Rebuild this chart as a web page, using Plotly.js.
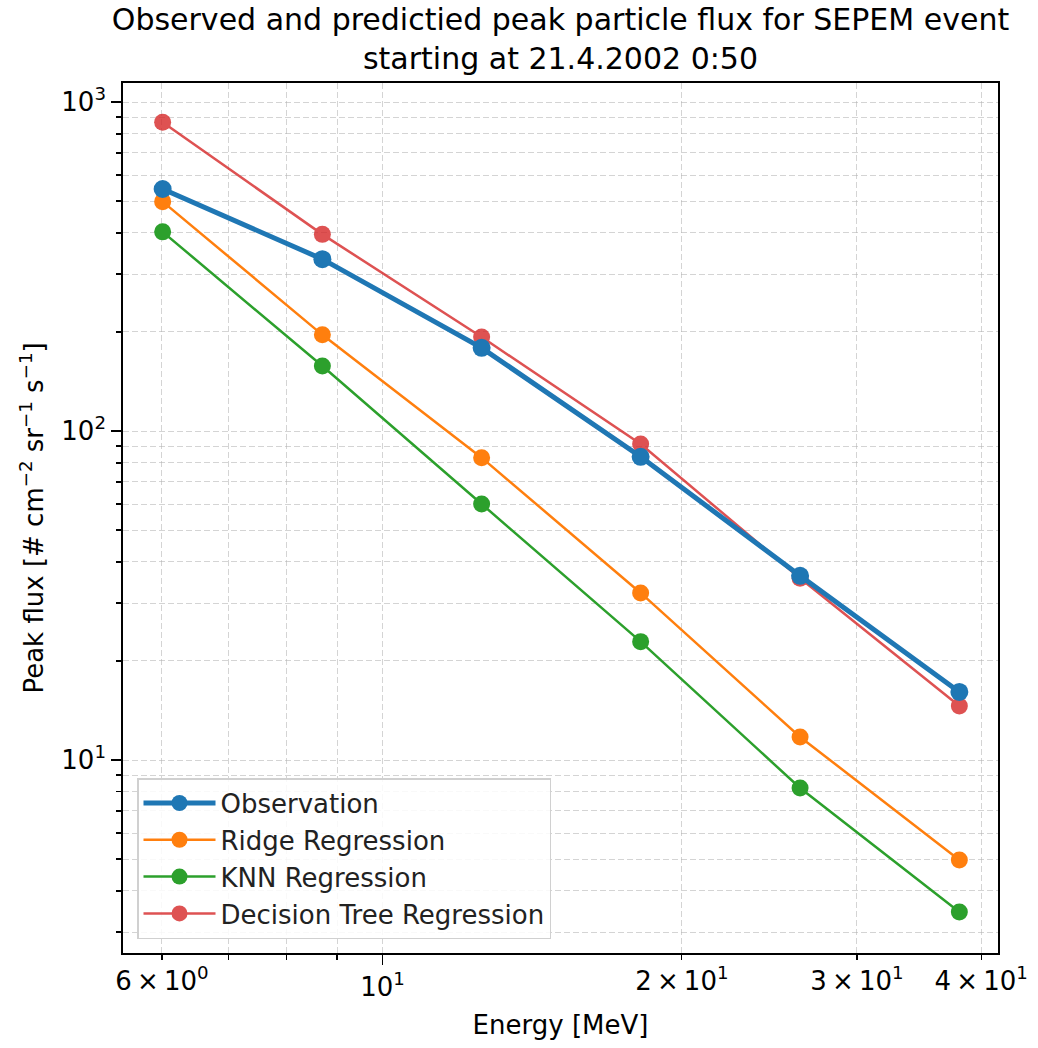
<!DOCTYPE html>
<html>
<head>
<meta charset="utf-8">
<script src="https://cdn.plot.ly/plotly-3.0.1.min.js"></script>
<style>html,body{margin:0;padding:0;background:#fff;}#chart{width:1038px;height:1048px;}</style>
</head>
<body>
<div id="chart"></div>
<script>
// Data
const energy = [6.01, 8.70, 12.58, 18.18, 26.30, 38.03];
const observation = [544, 333, 179, 83.5, 36.3, 16.1];
const ridge = [498, 196, 83, 32.2, 11.75, 4.97];
const knn = [403, 157.6, 60.0, 22.9, 8.22, 3.45];
const decisionTree = [868, 396, 193, 91.3, 35.7, 14.6];

const seriesNames = ["Observation", "Ridge Regression", "KNN Regression", "Decision Tree Regression"];

const xMajorVals = [10];
const xMajorText = ["10<sup>1</sup>"];
const xLabeledMinorVals = [6, 20, 30, 40];
const xLabeledMinorText = ["6\u2009×\u200910<sup>0</sup>", "2\u2009×\u200910<sup>1</sup>", "3\u2009×\u200910<sup>1</sup>", "4\u2009×\u200910<sup>1</sup>"];
const xMinorVals = [6, 7, 8, 9, 20, 30, 40];
const yMajorVals = [10, 100, 1000];
const yMajorText = ["10<sup>1</sup>", "10<sup>2</sup>", "10<sup>3</sup>"];

const yMinorVals = [];
[1, 10, 100].forEach(d => { for (let m = 2; m <= 9; m++) yMinorVals.push(m * d); });

const FONT = "DejaVu Sans, sans-serif";
const FS = 26;
const xRange = [0.739, 1.619];
const yRange = [0.4134, 3.0578];
const gridCol = "rgba(176,176,176,0.55)";
const gridDash = "6px,3px";

const traces = [
  {x: energy, y: ridge, name: seriesNames[1], mode: "lines+markers", legendrank: 2,
   line: {color: "#ff7f0e", width: 2.5}, marker: {color: "#ff7f0e", size: 17}},
  {x: energy, y: knn, name: seriesNames[2], mode: "lines+markers", legendrank: 3,
   line: {color: "#2ca02c", width: 2.5}, marker: {color: "#2ca02c", size: 17}},
  {x: energy, y: decisionTree, name: seriesNames[3], mode: "lines+markers", legendrank: 4, opacity: 0.8,
   line: {color: "#d62728", width: 2.5}, marker: {color: "#d62728", size: 17}},
  {x: energy, y: observation, name: seriesNames[0], mode: "lines+markers", legendrank: 1,
   line: {color: "#1f77b4", width: 5}, marker: {color: "#1f77b4", size: 18}},
  {x: energy, y: observation, xaxis: "x2", mode: "none", showlegend: false, hoverinfo: "skip"}
];

const layout = {
  width: 1038, height: 1048,
  paper_bgcolor: "#ffffff", plot_bgcolor: "#ffffff",
  font: {family: FONT, size: FS, color: "#000"},
  margin: {l: 123, r: 40, t: 83, b: 95},
  showlegend: true,
  title: {
    text: "Observed and predictied peak particle flux for SEPEM event<br>starting at 21.4.2002 0:50",
    font: {family: FONT, size: 30, color: "#000"},
    x: 0.5, xref: "paper", xanchor: "center",
    y: 0.971, yref: "container", yanchor: "top"
  },
  xaxis: {
    type: "log", range: xRange,
    tickmode: "array", tickvals: xMajorVals, ticktext: xMajorText,
    ticks: "outside", ticklen: 10, tickwidth: 1.5, tickcolor: "#000",
    showline: true, linecolor: "#000", linewidth: 1.8, mirror: true,
    showgrid: true, gridcolor: gridCol, gridwidth: 1, griddash: gridDash,
    zeroline: false,
    tickfont: {family: FONT, size: FS},
    minor: {tickmode: "array", tickvals: xMinorVals, ticks: "outside", ticklen: 5, tickwidth: 1.2, tickcolor: "#000",
            showgrid: true, gridcolor: gridCol, gridwidth: 1, griddash: gridDash},
    title: {text: "Energy [MeV]", font: {family: FONT, size: FS}, standoff: 15}
  },
  xaxis2: {
    type: "log", range: xRange, overlaying: "x", anchor: "y", side: "bottom",
    tickmode: "array", tickvals: xLabeledMinorVals, ticktext: xLabeledMinorText,
    ticks: "outside", ticklen: 5, tickwidth: 1.2, tickcolor: "#000",
    showline: false, showgrid: false, zeroline: false,
    tickfont: {family: FONT, size: FS}
  },
  yaxis: {
    type: "log", range: yRange,
    tickmode: "array", tickvals: yMajorVals, ticktext: yMajorText,
    ticks: "outside", ticklen: 10, tickwidth: 1.5, tickcolor: "#000",
    showline: true, linecolor: "#000", linewidth: 1.8, mirror: true,
    showgrid: true, gridcolor: gridCol, gridwidth: 1, griddash: gridDash,
    zeroline: false,
    tickfont: {family: FONT, size: FS},
    minor: {tickmode: "array", tickvals: yMinorVals, ticks: "outside", ticklen: 5, tickwidth: 1.2, tickcolor: "#000",
            showgrid: true, gridcolor: gridCol, gridwidth: 1, griddash: gridDash},
    title: {text: "Peak flux [# cm<sup>−2</sup> sr<sup>−1</sup> s<sup>−1</sup>]", font: {family: FONT, size: FS}, standoff: 10}
  },
  legend: {
    x: 0.016, y: 0.016, xanchor: "left", yanchor: "bottom",
    bgcolor: "rgba(255,255,255,0.85)", bordercolor: "#d0d0d0", borderwidth: 1.5,
    font: {family: FONT, size: FS, color: "#222"},
    traceorder: "normal", itemwidth: 72
  }
};

Plotly.newPlot("chart", traces, layout, {displayModeBar: false, staticPlot: true});
</script>
</body>
</html>
